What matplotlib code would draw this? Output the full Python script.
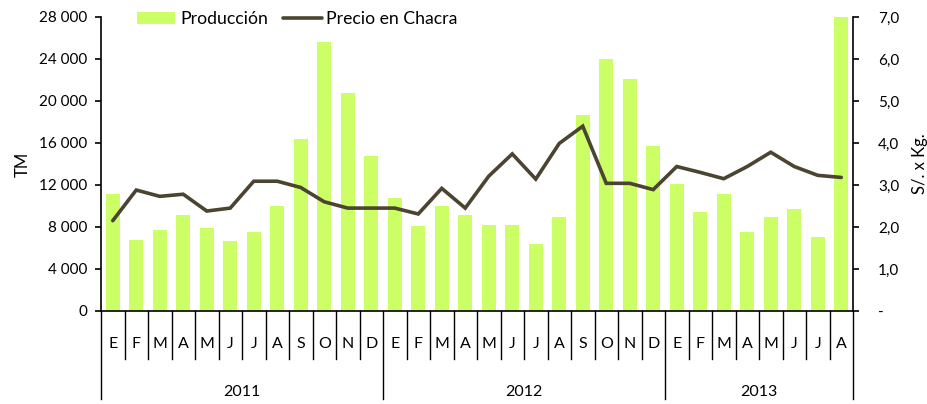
import matplotlib
matplotlib.use("Agg")
import matplotlib.pyplot as plt
import matplotlib.transforms as mtransforms
from matplotlib.lines import Line2D
from matplotlib.ticker import FuncFormatter

plt.rcParams['font.family'] = ['Lato', 'DejaVu Sans']

months = ["E", "F", "M", "A", "M", "J", "J", "A", "S", "O", "N", "D",
          "E", "F", "M", "A", "M", "J", "J", "A", "S", "O", "N", "D",
          "E", "F", "M", "A", "M", "J", "J", "A"]
years = ["2011", "2012", "2013"]
year_counts = [12, 12, 8]

produccion = [11100, 6800, 7750, 9150, 7900, 6650, 7500, 10000, 16400, 25650, 20750, 14750,
              10800, 8050, 10000, 9150, 8150, 8150, 6350, 9000, 18650, 24000, 22100, 15700,
              12050, 9450, 11100, 7500, 9000, 9700, 7050, 28000]
precio = [2.15, 2.88, 2.73, 2.78, 2.38, 2.45, 3.09, 3.09, 2.94, 2.60, 2.45, 2.45,
          2.45, 2.31, 2.92, 2.45, 3.21, 3.74, 3.14, 3.99, 4.40, 3.04, 3.04, 2.89,
          3.44, 3.30, 3.15, 3.44, 3.78, 3.44, 3.23, 3.18]

bar_color = "#ccff66"
line_color = "#4b4430"

fig = plt.figure(figsize=(9.27, 4.04), dpi=100)
ax = fig.add_axes([101/927, 1-311/404, (853-101)/927, (311-17)/404])
ax2 = ax.twinx()

x = list(range(len(months)))
bars = ax.bar(x, produccion, width=0.6, color=bar_color, zorder=2, label="Producción")
line, = ax2.plot(x, precio, color=line_color, lw=2.6, solid_joinstyle='miter',
                 solid_capstyle='round', zorder=3, label="Precio en Chacra")

ax.set_xlim(-0.5, len(months) - 0.5)
ax.set_ylim(0, 28000)
ax.set_yticks(range(0, 28001, 4000))
ax.yaxis.set_major_formatter(FuncFormatter(lambda v, p: f"{int(v):,}".replace(",", " ")))
ax2.set_ylim(0, 7.0)
ax2.set_yticks([0, 1, 2, 3, 4, 5, 6, 7])
ax2.yaxis.set_major_formatter(FuncFormatter(lambda v, p: "-" if v == 0 else f"{v:.1f}".replace(".", ",")))

for a in (ax, ax2):
    a.spines['top'].set_visible(False)
    for s in a.spines.values():
        s.set_linewidth(1.2)
        s.set_color("black")
    a.tick_params(axis='y', direction='out', length=4, width=1.2, labelsize=11, pad=6)
ax2.tick_params(axis='y', pad=14)
ax.set_xticks([])
ax2.set_xticks([])
ax.spines['right'].set_visible(False)
ax2.spines['left'].set_visible(False)
ax2.spines['bottom'].set_visible(False)

ax.set_ylabel("TM", fontsize=12, labelpad=6)
ax2.set_ylabel("S/. x Kg.", fontsize=12, labelpad=9)

# ensure the line is above bars
ax2.set_zorder(ax.get_zorder() + 1)
ax2.patch.set_visible(False)

trans = mtransforms.blended_transform_factory(ax.transData, ax.transAxes)
month_drop = 48 / 294
year_drop = 88 / 294
for i, m in enumerate(months):
    ax.text(i, -33/294, m, transform=trans, ha='center', va='center', fontsize=11.5)
boundaries = [-0.5]
for c in year_counts:
    boundaries.append(boundaries[-1] + c)
for i in range(len(months) + 1):
    xb = i - 0.5
    drop = year_drop if xb in boundaries else month_drop
    ax.add_line(Line2D([xb, xb], [0, -drop], transform=trans, color='black', lw=1.0, clip_on=False))
for k, yname in enumerate(years):
    center = (boundaries[k] + boundaries[k + 1]) / 2
    ax.text(center, -81/294, yname, transform=trans, ha='center', va='center', fontsize=11.5)

handles = [bars, line]
fig.legend(handles, [h.get_label() for h in handles], loc='center',
           bbox_to_anchor=(297/927, 1-19/404), ncol=2, frameon=False, fontsize=12.7,
           handlelength=2.2, handletextpad=0.25, columnspacing=0.85, handleheight=0.65,
           borderaxespad=0, borderpad=0)

fig.savefig("out.png", dpi=100)
